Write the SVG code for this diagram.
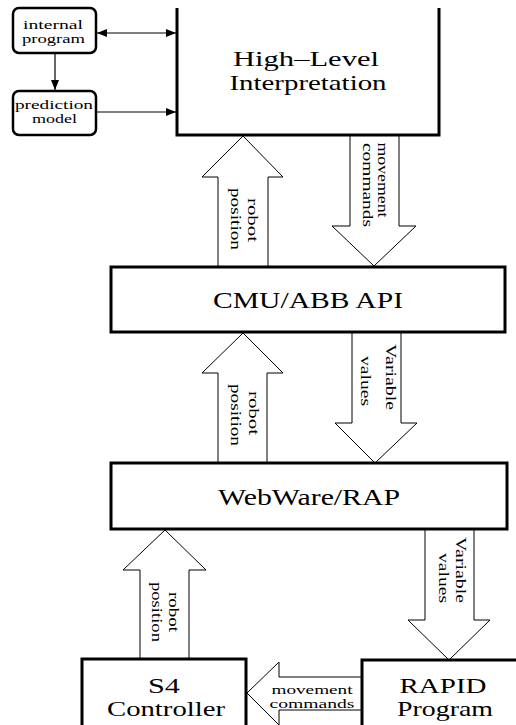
<svg xmlns="http://www.w3.org/2000/svg" width="516" height="725" viewBox="0 0 516 725">
<style>
.box{fill:#fff;stroke:#000;stroke-width:3}
.sbox{fill:#fff;stroke:#000;stroke-width:2.5}
.fat{fill:#fff;stroke:#000;stroke-width:1}
.ln{fill:none;stroke:#000;stroke-width:1.2}
text{font-family:"Liberation Serif","Times New Roman",serif;fill:#000;text-anchor:middle}
.big{font-size:24px}
.hl{font-size:21px}
.mid{font-size:22px}
.xs{font-size:12px}
.rt{font-size:14px}
</style>
<defs>
<marker id="ah" viewBox="0 0 10 8" refX="10" refY="4" markerWidth="10" markerHeight="8" markerUnits="userSpaceOnUse" orient="auto-start-reverse">
<path d="M0,0 L10,4 L0,8 Z" fill="#000"/>
</marker>
</defs>
<rect width="516" height="725" fill="#fff"/>

<g id="connectors">
<line class="ln" x1="97" y1="33" x2="176" y2="33" marker-start="url(#ah)" marker-end="url(#ah)"/>
<line class="ln" x1="55" y1="54" x2="55" y2="90" marker-end="url(#ah)"/>
<line class="ln" x1="97" y1="112" x2="176" y2="112" marker-end="url(#ah)"/>
<g id="arrow-robot-pos-1">
<polygon class="fat" points="243,136 283,177 268,177 268,267 218,267 218,177 202,177"/>
<text class="rt" transform="translate(248,220) rotate(90)" textLength="44" lengthAdjust="spacingAndGlyphs">robot</text>
<text class="rt" transform="translate(231,219) rotate(90)" textLength="62" lengthAdjust="spacingAndGlyphs">position</text>
</g>
<g id="arrow-movement-1">
<polygon class="fat" points="350,135 399,135 399,226 416,226 374,266 332,226 350,226"/>
<text class="rt" transform="translate(378,180) rotate(90)" textLength="75" lengthAdjust="spacingAndGlyphs">movement</text>
<text class="rt" transform="translate(363,185) rotate(90)" textLength="84" lengthAdjust="spacingAndGlyphs">commands</text>
</g>
<g id="arrow-robot-pos-2">
<polygon class="fat" points="243,333 283,373 267,373 267,463 218,463 218,373 202,373"/>
<text class="rt" transform="translate(249,413) rotate(90)" textLength="44" lengthAdjust="spacingAndGlyphs">robot</text>
<text class="rt" transform="translate(231,415) rotate(90)" textLength="62" lengthAdjust="spacingAndGlyphs">position</text>
</g>
<g id="arrow-values-1">
<polygon class="fat" points="352,332 401,332 401,423 417,423 375,463 335,423 352,423"/>
<text class="rt" transform="translate(386,377) rotate(90)" textLength="66" lengthAdjust="spacingAndGlyphs">Variable</text>
<text class="rt" transform="translate(361,381) rotate(90)" textLength="50" lengthAdjust="spacingAndGlyphs">values</text>
</g>
<g id="arrow-robot-pos-3">
<polygon class="fat" points="165,530 206,570 189,570 189,659 140,659 140,570 123,570"/>
<text class="rt" transform="translate(169,612) rotate(90)" textLength="40" lengthAdjust="spacingAndGlyphs">robot</text>
<text class="rt" transform="translate(152,612) rotate(90)" textLength="60" lengthAdjust="spacingAndGlyphs">position</text>
</g>
<g id="arrow-values-2">
<polygon class="fat" points="425,529 474,529 474,620 490,620 449,660 408,620 425,620"/>
<text class="rt" transform="translate(456,570) rotate(90)" textLength="66" lengthAdjust="spacingAndGlyphs">Variable</text>
<text class="rt" transform="translate(439,578) rotate(90)" textLength="50" lengthAdjust="spacingAndGlyphs">values</text>
</g>
<g id="arrow-movement-2">
<polygon class="fat" points="247,693 279,662 279,677 362,677 362,710 279,710 279,725"/>
<text class="xs" x="312" y="694" textLength="81" lengthAdjust="spacingAndGlyphs">movement</text>
<text class="xs" x="312" y="708" textLength="85" lengthAdjust="spacingAndGlyphs">commands</text>
</g>
</g>

<g id="internal-program">
<rect class="sbox" x="13" y="8" width="83" height="45" rx="6"/>
<text class="xs" x="53" y="29" textLength="60" lengthAdjust="spacingAndGlyphs">internal</text>
<text class="xs" x="53.5" y="43" textLength="63" lengthAdjust="spacingAndGlyphs">program</text>
</g>
<g id="prediction-model">
<rect class="sbox" x="13" y="91" width="83" height="44" rx="6"/>
<text class="xs" x="54" y="109" textLength="78" lengthAdjust="spacingAndGlyphs">prediction</text>
<text class="xs" x="54.5" y="123" textLength="45" lengthAdjust="spacingAndGlyphs">model</text>
</g>
<g id="high-level">
<path class="box" d="M177,8 V135 H439 V8"/>
<text class="hl" x="306" y="66" textLength="146" lengthAdjust="spacingAndGlyphs">High–Level</text>
<text class="hl" x="308" y="90" textLength="157" lengthAdjust="spacingAndGlyphs">Interpretation</text>
</g>
<g id="cmu-abb-api">
<rect class="box" x="111" y="267" width="394" height="65"/>
<text class="big" x="308" y="308" textLength="190" lengthAdjust="spacingAndGlyphs">CMU/ABB API</text>
</g>
<g id="webware-rap">
<rect class="box" x="111" y="463" width="396" height="66"/>
<text class="big" x="309" y="505" textLength="182" lengthAdjust="spacingAndGlyphs">WebWare/RAP</text>
</g>
<g id="s4-controller">
<rect class="box" x="82" y="659" width="164" height="80"/>
<text class="mid" x="164" y="693" textLength="32" lengthAdjust="spacingAndGlyphs">S4</text>
<text class="mid" x="166" y="716" textLength="118" lengthAdjust="spacingAndGlyphs">Controller</text>
</g>
<g id="rapid-program">
<rect class="box" x="362" y="660" width="170" height="80"/>
<text class="mid" x="443" y="693" textLength="87" lengthAdjust="spacingAndGlyphs">RAPID</text>
<text class="mid" x="445" y="716" textLength="96" lengthAdjust="spacingAndGlyphs">Program</text>
</g>
</svg>
